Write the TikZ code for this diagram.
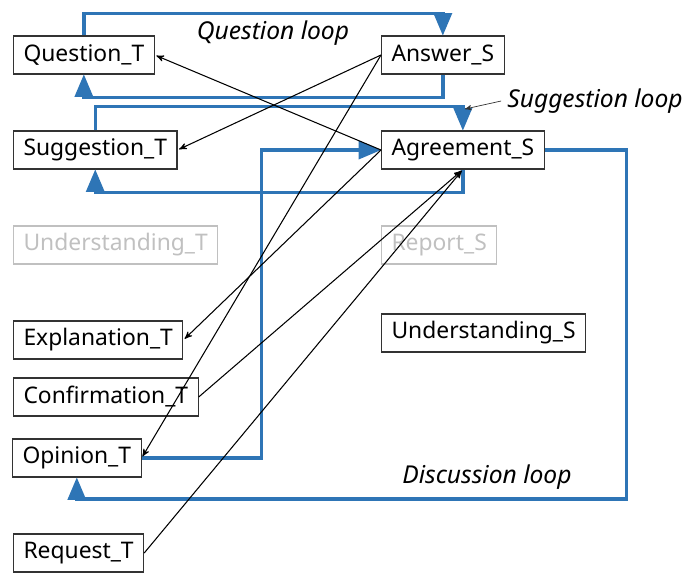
\documentclass[tikz,border=0pt]{standalone}
\usepackage{fontspec}
\setmainfont{Noto Sans}
\usepackage{tikz}
\usetikzlibrary{arrows}
\definecolor{loopblue}{RGB}{46,117,182}
\definecolor{faded}{RGB}{192,192,192}

\begin{document}
\begin{tikzpicture}[->,>=stealth',x=0.02cm,y=-0.02cm,
                    every node/.style={font=\fontsize{13}{16}\selectfont}]
  \tikzstyle{act}=[draw=black!80,line width=0.6pt,anchor=west,inner xsep=0.2cm,
                   minimum height=0.76cm,text=black]
  \tikzstyle{idle}=[act,draw=faded,text=faded]
  \tikzstyle{loop}=[-triangle 45,draw=loopblue,line width=2pt]
  \tikzstyle{move}=[semithick,shorten >=1pt]
  \tikzstyle{tag}=[font=\fontsize{14}{16}\selectfont\itshape]

  \useasboundingbox (0,0) rectangle (695,572);

  \node[act]  (qT) at (13,55)  {Question\_T};
  \node[act]  (aS) at (381,55) {Answer\_S};
  \node[act]  (sT) at (13,150) {Suggestion\_T};
  \node[act]  (gS) at (381,150) {Agreement\_S};
  \node[idle] (uT) at (13,245) {Understanding\_T};
  \node[idle] (rS) at (381,245) {Report\_S};
  \node[act]  (eT) at (13,340) {Explanation\_T};
  \node[act]  (uS) at (381,333) {Understanding\_S};
  \node[act]  (cT) at (13,397) {Confirmation\_T};
  \node[act]  (oT) at (12,458) {Opinion\_T};
  \node[act]  (rT) at (13,553) {Request\_T};

  % loops
  \draw[loop] (qT.north) -- ++(0,-22) -| (aS.north);
  \draw[loop] (aS.south) -- ++(0,23) -| (qT.south);
  \draw[loop] (sT.north) -- ++(0,-24) -| (gS.north);
  \draw[loop] (gS.south) -- ++(0,23) -| (sT.south);
  \draw[loop] (oT.east) -- ++(120,0) |- (gS.west);
  \draw[loop] (gS.east) -- ++(82,0) -- ++(0,349) -| (oT.south);

  \node[tag] (ql) at (273,33)  {Question loop};
  \node[tag] (sl) at (595,101) {Suggestion loop};
  \node[tag] (dl) at (487,477) {Discussion loop};
  \coordinate (slend) at (465,109);
  \draw[thin,black!80] (sl.west) -- (slend);

  \path (gS.west) edge[move] (qT.east)
        (aS.west) edge[move] (sT.east)
                  edge[move] (oT.east)
        (gS.west) edge[move] (eT.east)
        (cT.east) edge[move] (gS.south)
        (rT.east) edge[move] (gS.south);
\end{tikzpicture}
\end{document}
